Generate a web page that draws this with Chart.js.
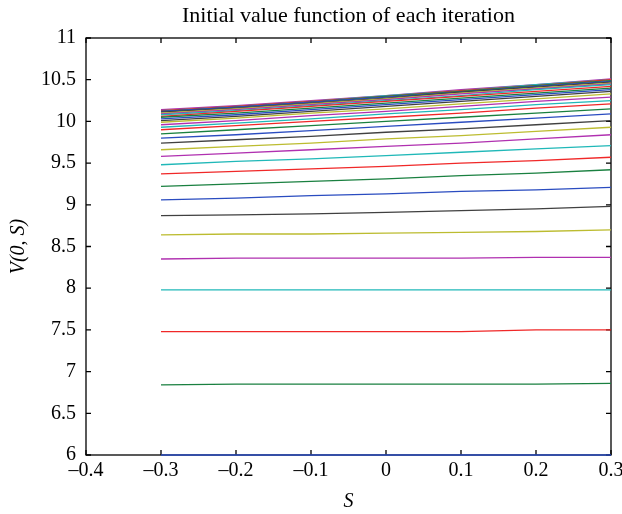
<!DOCTYPE html>
<html>
<head>
<meta charset="utf-8">
<script src="https://cdn.jsdelivr.net/npm/chart.js@4.4.1/dist/chart.umd.min.js"></script>
<style>
html, body { margin: 0; padding: 0; background: #fff; }
</style>
</head>
<body>
<canvas id="my_line_chart" width="622" height="514"></canvas>
<script>
var chartTitle = "Initial value function of each iteration";
var xAxisTitle = "S";
var yAxisTitle = "V(0, S)";

var xTicks = [-0.4, -0.3, -0.2, -0.1, 0, 0.1, 0.2, 0.3];
var xTickLabels = ["\u20130.4", "\u20130.3", "\u20130.2", "\u20130.1", "0", "0.1", "0.2", "0.3"];
var yTicks = [6, 6.5, 7, 7.5, 8, 8.5, 9, 9.5, 10, 10.5, 11];
var yTickLabels = ["6", "6.5", "7", "7.5", "8", "8.5", "9", "9.5", "10", "10.5", "11"];

// S values where each iteration's curve is read
var sValues = [-0.3, -0.2, -0.1, 0, 0.1, 0.2, 0.3];

// V(0,S) for each iteration, bottom curve first
var iterationValues = [
    [6.00, 6.00, 6.00, 6.00, 6.00, 6.00, 6.00],
    [6.84, 6.85, 6.85, 6.85, 6.85, 6.85, 6.86],
    [7.48, 7.48, 7.48, 7.48, 7.48, 7.50, 7.50],
    [7.98, 7.98, 7.98, 7.98, 7.98, 7.98, 7.98],
    [8.35, 8.36, 8.36, 8.36, 8.36, 8.37, 8.37],
    [8.64, 8.65, 8.65, 8.66, 8.67, 8.68, 8.70],
    [8.87, 8.88, 8.89, 8.91, 8.93, 8.95, 8.98],
    [9.06, 9.08, 9.11, 9.13, 9.16, 9.18, 9.21],
    [9.22, 9.25, 9.28, 9.31, 9.35, 9.38, 9.42],
    [9.37, 9.40, 9.43, 9.46, 9.50, 9.53, 9.57],
    [9.48, 9.52, 9.55, 9.59, 9.63, 9.67, 9.71],
    [9.58, 9.62, 9.66, 9.70, 9.74, 9.79, 9.84],
    [9.66, 9.70, 9.74, 9.79, 9.83, 9.88, 9.93],
    [9.74, 9.78, 9.82, 9.87, 9.91, 9.96, 10.01],
    [9.80, 9.84, 9.89, 9.94, 9.99, 10.04, 10.09],
    [9.85, 9.90, 9.95, 10.00, 10.05, 10.10, 10.15],
    [9.90, 9.95, 10.00, 10.05, 10.10, 10.16, 10.21],
    [9.93, 9.98, 10.03, 10.09, 10.14, 10.20, 10.25],
    [9.96, 10.01, 10.07, 10.12, 10.18, 10.24, 10.29],
    [9.99, 10.04, 10.10, 10.15, 10.21, 10.27, 10.33],
    [10.01, 10.06, 10.12, 10.18, 10.24, 10.30, 10.36],
    [10.03, 10.08, 10.14, 10.20, 10.26, 10.32, 10.38],
    [10.05, 10.10, 10.16, 10.22, 10.28, 10.34, 10.40],
    [10.06, 10.12, 10.18, 10.24, 10.30, 10.36, 10.42],
    [10.08, 10.13, 10.19, 10.25, 10.31, 10.38, 10.44],
    [10.09, 10.14, 10.20, 10.26, 10.33, 10.39, 10.45],
    [10.10, 10.15, 10.21, 10.27, 10.34, 10.40, 10.46],
    [10.11, 10.16, 10.22, 10.28, 10.35, 10.41, 10.47],
    [10.12, 10.17, 10.23, 10.29, 10.35, 10.42, 10.48],
    [10.12, 10.17, 10.23, 10.30, 10.36, 10.43, 10.49],
    [10.13, 10.18, 10.24, 10.30, 10.37, 10.43, 10.50],
    [10.13, 10.18, 10.24, 10.31, 10.37, 10.44, 10.50],
    [10.14, 10.19, 10.25, 10.31, 10.38, 10.44, 10.51]
];

// matlab default line order: b g r c m y k
var lineColors = ['#2a4cc0', '#1a8040', '#f02828', '#20b8b8', '#b030b0', '#bcbc30', '#404040'];

var serif = "'Liberation Serif', 'DejaVu Serif', serif";

// box round the plot with inward tick marks, like matlab
var frameAndTicks = {
    id: 'frameAndTicks',
    beforeDatasetsDraw: function (chart) {
        var ctx = chart.ctx, a = chart.chartArea;
        var xs = chart.scales.x, ys = chart.scales.y;
        var tl = 5;
        ctx.save();
        ctx.strokeStyle = '#000';
        ctx.lineWidth = 1.3;
        ctx.strokeRect(a.left, a.top, a.right - a.left, a.bottom - a.top);
        ctx.beginPath();
        xTicks.forEach(function (v) {
            var px = xs.getPixelForValue(v);
            ctx.moveTo(px, a.bottom); ctx.lineTo(px, a.bottom - tl);
            ctx.moveTo(px, a.top); ctx.lineTo(px, a.top + tl);
        });
        yTicks.forEach(function (v) {
            var py = ys.getPixelForValue(v);
            ctx.moveTo(a.left, py); ctx.lineTo(a.left + tl, py);
            ctx.moveTo(a.right, py); ctx.lineTo(a.right - tl, py);
        });
        ctx.stroke();
        ctx.restore();
    }
};

(function () {
    var datasets = iterationValues.map(function (vals, i) {
        return {
            label: 'iteration ' + (i + 1),
            data: sValues.map(function (s, j) { return { x: s, y: vals[j] }; }),
            borderColor: lineColors[i % lineColors.length],
            borderWidth: 1.3,
            pointRadius: 0,
            fill: false,
            tension: 0,
            clip: false
        };
    });

    new Chart(document.getElementById("my_line_chart").getContext("2d"), {
        type: 'line',
        data: { datasets: datasets },
        plugins: [frameAndTicks],
        options: {
            responsive: false,
            animation: false,
            layout: { padding: { left: 0, right: 11, top: 0, bottom: 0 } },
            plugins: {
                legend: { display: false },
                tooltip: { enabled: false }
            },
            scales: {
                x: {
                    type: 'linear',
                    min: -0.4,
                    max: 0.3,
                    afterBuildTicks: function (s) { s.ticks = xTicks.map(function (v) { return { value: v }; }); },
                    afterFit: function (s) { s.height = 59; s.paddingLeft = 0; s.paddingRight = 0; },
                    ticks: {
                        autoSkip: false,
                        maxRotation: 0,
                        color: '#000',
                        padding: 4,
                        font: { family: serif, size: 20 },
                        callback: function (v, i) { return xTickLabels[i]; }
                    },
                    grid: { display: false, drawTicks: false },
                    border: { display: false },
                    title: {
                        display: true,
                        text: xAxisTitle,
                        color: '#000',
                        font: { family: serif, size: 20, style: 'italic' },
                        padding: { top: 0, bottom: 0 }
                    }
                },
                // empty top axis, only there so the title sits centred over the plot box
                top: {
                    type: 'linear',
                    position: 'top',
                    min: -0.4,
                    max: 0.3,
                    afterFit: function (s) { s.height = 38; s.paddingLeft = 0; s.paddingRight = 0; },
                    ticks: { display: false },
                    grid: { display: false, drawTicks: false },
                    border: { display: false },
                    title: {
                        display: true,
                        text: chartTitle,
                        color: '#000',
                        font: { family: serif, size: 22, lineHeight: 1 },
                        padding: { top: 5, bottom: 0 }
                    }
                },
                y: {
                    type: 'linear',
                    min: 6,
                    max: 11,
                    afterBuildTicks: function (s) { s.ticks = yTicks.map(function (v) { return { value: v }; }); },
                    afterFit: function (s) { s.width = 86; s.paddingTop = 0; s.paddingBottom = 0; },
                    ticks: {
                        autoSkip: false,
                        color: '#000',
                        padding: 10,
                        font: { family: serif, size: 20 },
                        callback: function (v, i) { return yTickLabels[i]; }
                    },
                    grid: { display: false, drawTicks: false },
                    border: { display: false },
                    title: {
                        display: true,
                        text: yAxisTitle,
                        color: '#000',
                        font: { family: serif, size: 20, style: 'italic' },
                        padding: { top: 7, bottom: 0 }
                    }
                }
            }
        }
    });
})();
</script>
</body>
</html>
